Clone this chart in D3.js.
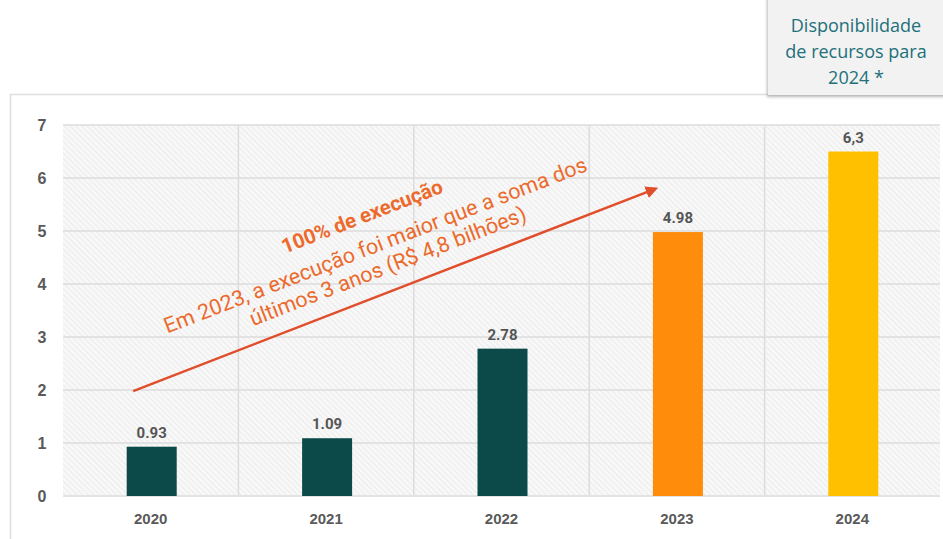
<!DOCTYPE html>
<html>
<head>
<meta charset="utf-8">
<script src="https://cdn.jsdelivr.net/npm/d3@7"></script>
<style>
  body { margin: 0; background: #fff; }
  svg { display: block; font-family: "Roboto", "DejaVu Sans", sans-serif; }
</style>
</head>
<body>
<script>
// chart data
const years = ["2020", "2021", "2022", "2023", "2024"];
const values = [0.93, 1.09, 2.78, 4.98, 6.5];   // bar heights as drawn
const valueLabels = ["0.93", "1.09", "2.78", "4.98", "6,3"];
const barColors = ["#0b4a48", "#0b4a48", "#0b4a48", "#ff8c0a", "#ffc000"];
const yTicks = [0, 1, 2, 3, 4, 5, 6, 7];
const noteLines = ["100% de execução", "Em 2023, a execução foi maior que a soma dos", "últimos 3 anos (R$ 4,8 bilhões)"];
const boxLines = ["Disponibilidade", "de recursos para", "2024 *"];
// arrow runs from (year index, value) to (year index, value)
const arrowFrom = [-0.1, 1.98], arrowTo = [2.88, 5.8];

const width = 943, height = 539;
const margin = {top: 125, right: 3, bottom: 43, left: 63};

const svg = d3.select("body").append("svg")
  .attr("width", width).attr("height", height);

// hatch pattern for the plot background
const defs = svg.append("defs");
const pat = defs.append("pattern")
  .attr("id", "hatch").attr("width", 4).attr("height", 4)
  .attr("patternUnits", "userSpaceOnUse")
  .attr("patternTransform", "rotate(-45)");
pat.append("rect").attr("width", 4).attr("height", 4).attr("fill", "#f8f8f8");
pat.append("line").attr("x1", 0).attr("y1", 0).attr("x2", 0).attr("y2", 4)
  .attr("stroke", "#e8e8e8").attr("stroke-width", 1.6);

const shadow = defs.append("filter").attr("id", "shadow")
  .attr("x", "-10%").attr("y", "-10%").attr("width", "130%").attr("height", "130%");
shadow.append("feDropShadow").attr("dx", -1).attr("dy", 2).attr("stdDeviation", 1.5)
  .attr("flood-color", "#888").attr("flood-opacity", 0.6);

// outer frame
svg.append("path")
  .attr("d", `M10.5,${height} V94.5 H${width}`)
  .attr("fill", "none").attr("stroke", "#dedede").attr("stroke-width", 1.5);

const x = d3.scaleBand().domain(years)
  .range([margin.left, width - margin.right]).paddingInner(0).paddingOuter(0);
const y = d3.scaleLinear().domain([0, 7]).range([height - margin.bottom, margin.top]);
const xi = d3.scaleLinear().domain([0, years.length]).range([margin.left, width - margin.right]);

// plot background
svg.append("rect")
  .attr("x", margin.left).attr("y", margin.top)
  .attr("width", width - margin.right - margin.left)
  .attr("height", y(0) - margin.top)
  .attr("fill", "url(#hatch)");

// gridlines
svg.append("g").selectAll("line").data(yTicks.slice(1)).join("line")
  .attr("x1", margin.left).attr("x2", width - margin.right)
  .attr("y1", d => y(d)).attr("y2", d => y(d))
  .attr("stroke", "#dcdcdc").attr("stroke-width", 1.5);
svg.append("g").selectAll("line").data(years.slice(1)).join("line")
  .attr("x1", d => x(d)).attr("x2", d => x(d))
  .attr("y1", margin.top).attr("y2", y(0))
  .attr("stroke", "#dcdcdc").attr("stroke-width", 1.5);
svg.append("line")
  .attr("x1", margin.left).attr("x2", width - margin.right)
  .attr("y1", y(0)).attr("y2", y(0))
  .attr("stroke", "#e3e3e3").attr("stroke-width", 2);

// y axis
const yAxis = svg.append("g")
  .attr("transform", `translate(${margin.left - 21},0)`)
  .call(d3.axisLeft(y).tickValues(yTicks).tickFormat(d3.format("d")).tickSize(0).tickPadding(0));
yAxis.select(".domain").remove();
yAxis.selectAll("text")
  .attr("fill", "#5a5a5a").attr("font-size", 16).attr("font-weight", "bold")
  .attr("text-anchor", "middle").attr("dy", "0.35em");

// x axis
const xAxis = svg.append("g")
  .attr("transform", `translate(0,${y(0) + 17})`)
  .call(d3.axisBottom(x).tickSize(0).tickPadding(0));
xAxis.select(".domain").remove();
xAxis.selectAll("text")
  .attr("fill", "#5a5a5a").attr("font-size", 15).attr("font-weight", "bold");

// bars
const barW = 50;
const data = years.map((yr, i) => ({yr, v: values[i], label: valueLabels[i], c: barColors[i]}));
svg.append("g").selectAll("rect").data(data).join("rect")
  .attr("x", d => x(d.yr) + x.bandwidth() / 2 - barW / 2 + 1)
  .attr("y", d => y(d.v))
  .attr("width", barW)
  .attr("height", d => y(0) - y(d.v))
  .attr("fill", d => d.c);

svg.append("g").selectAll("text").data(data).join("text")
  .attr("x", d => x(d.yr) + x.bandwidth() / 2 + 1)
  .attr("y", d => y(d.v) - 9)
  .attr("text-anchor", "middle")
  .attr("fill", "#555")
  .attr("font-size", 15).attr("font-weight", "bold")
  .text(d => d.label);

// arrow annotation
defs.append("marker").attr("id", "arrowhead")
  .attr("viewBox", "0 0 10 10").attr("refX", 8).attr("refY", 5)
  .attr("markerWidth", 5).attr("markerHeight", 5).attr("orient", "auto")
  .append("path").attr("d", "M0,0 L10,5 L0,10 z").attr("fill", "#e04e2b");

const ax1 = xi(arrowFrom[0] + 0.5), ay1 = y(arrowFrom[1]);
const ax2 = xi(arrowTo[0] + 0.5), ay2 = y(arrowTo[1]);
svg.append("line")
  .attr("x1", ax1).attr("y1", ay1).attr("x2", ax2).attr("y2", ay2)
  .attr("stroke", "#e04e2b").attr("stroke-width", 2.5)
  .attr("marker-end", "url(#arrowhead)");

const angle = Math.atan2(ay2 - ay1, ax2 - ax1) * 180 / Math.PI;
const note = svg.append("g")
  .attr("transform", `translate(378,252) rotate(${angle})`);
note.selectAll("text").data(noteLines).join("text")
  .attr("x", (d, i) => [-2, 0, 4][i])
  .attr("y", (d, i) => [-32, 0, 24][i])
  .attr("text-anchor", "middle")
  .attr("fill", "#ec6a2c")
  .attr("font-size", (d, i) => i === 0 ? 20.5 : 21.5)
  .attr("font-weight", (d, i) => i === 0 ? "bold" : "normal")
  .text(d => d);

// top right box
const box = svg.append("g");
box.append("rect")
  .attr("x", 768).attr("y", -5).attr("width", 180).attr("height", 100)
  .attr("fill", "#f2f2f2").attr("filter", "url(#shadow)");
box.selectAll("text").data(boxLines).join("text")
  .attr("x", 856).attr("y", (d, i) => 32 + i * 26)
  .attr("text-anchor", "middle")
  .attr("fill", "#21707a")
  .attr("font-size", 18)
  .attr("font-family", "'Open Sans', sans-serif")
  .text(d => d);
</script>
</body>
</html>
